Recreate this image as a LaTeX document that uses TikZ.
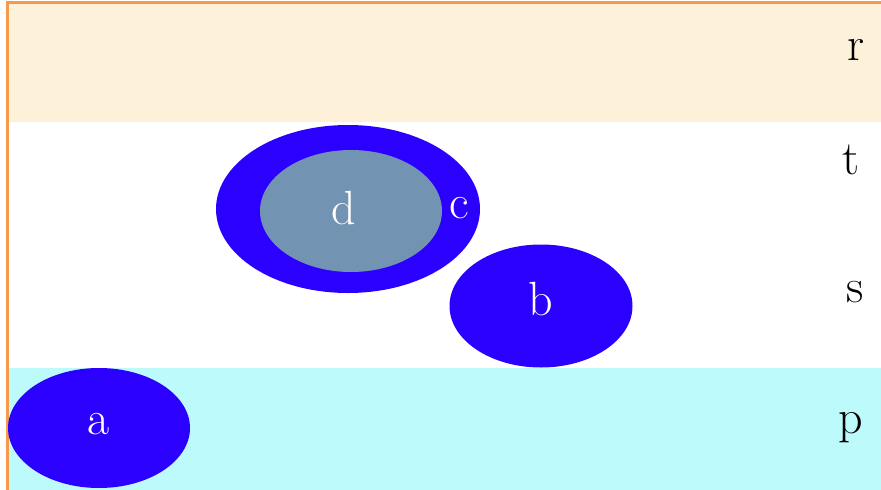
\documentclass[tikz,border=0pt]{standalone}
\usepackage{tikz}
\usetikzlibrary{shapes.geometric,positioning}
\definecolor{setblue}{HTML}{2B00FF}
\definecolor{setgrey}{HTML}{7393B3}
\definecolor{bandr}{HTML}{FDF2D9}
\definecolor{bandp}{HTML}{BCFAFC}
\definecolor{rim}{HTML}{F59A4A}

\begin{document}
\begin{tikzpicture}[x=1pt,y=-1pt,
  big/.style={font=\fontsize{48}{50}\selectfont},
  blob/.style={ellipse, fill=setblue, inner sep=0pt, text=white, big},
  tag/.style={big, text=black}]
\useasboundingbox (0,0) rectangle (881,490);
% bands
\fill[bandr] (8,3) rectangle (881,122);
\fill[bandp] (8,368) rectangle (881,490);
\draw[rim, line width=3pt] (7,490) -- (7,2) -- (881,2);
% regions
\node[blob, minimum width=182, minimum height=120] (a) at (99,428) {};
\node[blob, minimum width=264, minimum height=168] (c) at (348,209) {};
\node[blob, fill=setgrey, minimum width=182, minimum height=122] (d) at (351,211) {};
\node[blob, minimum width=183, minimum height=123] (b) at (541,306) {};
% region names
\node[text=white, big] (alab) at (99,424) {a};
\node[text=white, big] (dlab) at (344,208) {d};
\node[text=white, big] (clab) at (459,208) {c};
\node[text=white, big] (blab) at (541,299) {b};
% band names
\node[tag] (r) at (856,50) {r};
\node[tag] (t) at (851,160) {t};
\node[tag] (s) at (855,292) {s};
\node[tag] (p) at (851,428) {p};
\end{tikzpicture}
\end{document}
